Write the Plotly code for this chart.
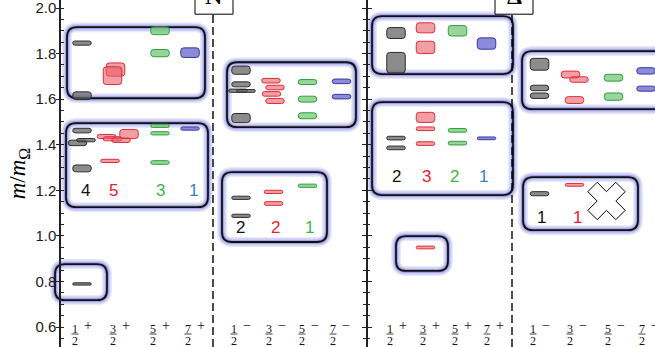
import plotly.graph_objects as go

# ---------------- data ----------------
SPIN_NUM = ["1", "3", "5", "7"]          # J = n/2
SPIN_DEN = "2"
PARITY_SIGNS = ["+", "−"]
Y_TICKS = [0.6, 0.8, 1.0, 1.2, 1.4, 1.6, 1.8, 2.0]
Y_TICK_LABELS = ["0.6", "0.8", "1.0", "1.2", "1.4", "1.6", "1.8", "2.0"]

# Nucleon, positive parity: J column (0..3 = 1/2..7/2), mass m/mΩ, uncertainty
N_POS_COL = [0, 0, 1, 1, 2, 2, 3, 0, 0, 0, 0, 1, 1, 1, 1, 1, 2, 2, 2, 3, 0]
N_POS_MASS = [1.846, 1.615, 1.730, 1.703, 1.900, 1.802, 1.804,
              1.462, 1.408, 1.420, 1.296, 1.436, 1.426, 1.420, 1.447, 1.329,
              1.483, 1.450, 1.322, 1.471, 0.789]
N_POS_ERR = [0.009, 0.017, 0.029, 0.039, 0.017, 0.016, 0.021,
             0.010, 0.012, 0.007, 0.015, 0.009, 0.009, 0.010, 0.020, 0.007,
             0.007, 0.007, 0.008, 0.007, 0.005]

# Nucleon, negative parity
N_NEG_COL = [0, 0, 0, 0, 0, 1, 1, 1, 1, 2, 2, 2, 3, 3, 0, 0, 1, 1, 2]
N_NEG_MASS = [1.727, 1.665, 1.637, 1.636, 1.517, 1.681, 1.651, 1.623, 1.592,
              1.675, 1.600, 1.527, 1.678, 1.611, 1.167, 1.088, 1.193, 1.142, 1.220]
N_NEG_ERR = [0.018, 0.011, 0.007, 0.006, 0.020, 0.010, 0.010, 0.010, 0.011,
             0.011, 0.013, 0.013, 0.010, 0.010, 0.007, 0.007, 0.007, 0.008, 0.007]

# Delta, positive parity
D_POS_COL = [0, 0, 1, 1, 2, 3, 0, 0, 1, 1, 1, 2, 2, 3, 1]
D_POS_MASS = [1.890, 1.760, 1.913, 1.827, 1.900, 1.844,
              1.429, 1.386, 1.520, 1.470, 1.405, 1.463, 1.407, 1.428, 0.949]
D_POS_ERR = [0.024, 0.045, 0.022, 0.027, 0.023, 0.025,
             0.008, 0.008, 0.022, 0.008, 0.008, 0.008, 0.008, 0.006, 0.006]

# Delta, negative parity
D_NEG_COL = [0, 0, 0, 1, 1, 1, 2, 2, 3, 3, 0, 1]
D_NEG_MASS = [1.753, 1.649, 1.615, 1.708, 1.686, 1.596, 1.694, 1.611, 1.724, 1.646,
              1.185, 1.224]
D_NEG_ERR = [0.026, 0.012, 0.012, 0.015, 0.012, 0.015, 0.015, 0.016, 0.014, 0.011,
             0.009, 0.006]

# counts of low-lying states per J column
N_POS_COUNTS = [4, 5, 3, 1]
N_NEG_COUNTS = [2, 2, 1]
D_POS_COUNTS = [2, 3, 2, 1]
D_NEG_COUNTS = [1, 1]

# missing state (Δ 5/2−) marked with a cross
MISSING_COL = 2
MISSING_MASS = 1.153

# ---------------- layout / styling ----------------
Y_RANGE = [0.6 - 20 / 228, 2.0 + 8 / 228]
PX_PER_Y = 228.0
BAR_W = 18.5
BAR_FILL = ["rgba(95,95,95,0.72)", "rgba(232,95,105,0.6)",
            "rgba(110,195,110,0.7)", "rgba(110,110,205,0.8)"]
BAR_LINE = ["rgb(45,45,45)", "rgb(220,45,55)", "rgb(40,160,60)", "rgb(55,55,165)"]
COUNT_COLOR = ["#111111", "#e8202a", "#3cb44b", "#2f7fd0"]

panels = [
    dict(col=N_POS_COL, mass=N_POS_MASS, err=N_POS_ERR,
         centers=[82, 112, 160, 190],
         dx=[0, 0, 3.5, 0.5, 0, 0, 0, 0, -4.5, 4, 0, -5.5, 0.5, 9, 17, -2, 0, 0, 0, 0, 0],
         labels=[75, 113, 153, 188], sign=0,
         counts=N_POS_COUNTS, count_x=[85, 113, 160, 193], count_y=1.201,
         boxes=[(67, 205, 1.604, 1.916), (66, 208, 1.126, 1.495), (55, 107, 0.718, 0.876)]),
    dict(col=N_NEG_COL, mass=N_NEG_MASS, err=N_NEG_ERR,
         centers=[241, 273, 307.5, 341.5],
         dx=[0, 0, -3, 5, 0, -2, 2, -1.5, 2, 0, 0, 0, 0, 0, 0, 0, 0.5, 0.5, 0],
         labels=[234, 269, 302, 333], sign=1,
         counts=N_NEG_COUNTS, count_x=[240, 275, 309], count_y=1.036,
         boxes=[(227, 356, 1.477, 1.762), (222, 327, 0.973, 1.280)]),
    dict(col=D_POS_COL, mass=D_POS_MASS, err=D_POS_ERR,
         centers=[396, 425.5, 457.5, 486.5],
         dx=[0] * len(D_POS_COL),
         labels=[390, 423, 455, 487], sign=0,
         counts=D_POS_COUNTS, count_x=[396, 426, 454, 483], count_y=1.259,
         boxes=[(372, 513, 1.710, 1.964), (372, 513, 1.179, 1.587), (396, 448, 0.846, 0.999)]),
    dict(col=D_NEG_COL, mass=D_NEG_MASS, err=D_NEG_ERR,
         centers=[539.5, 574.5, 613.5, 646],
         dx=[0, 0, 0, -4, 4.5, 0, 0, 0, 0, 0, 0, 0],
         labels=[533, 570, 608, 642], sign=1,
         counts=D_NEG_COUNTS, count_x=[541, 577], count_y=1.082,
         boxes=[(522, 680, 1.556, 1.811), (523, 638, 1.025, 1.258)]),
]
PANEL_TAGS = [("N", 214, 195, 233), ("Δ", 514, 495, 533)]
DASH_X = [213, 512]
AXIS_X = [60, 366.5]


def rbox(x0, x1, y0, y1, r=10):
    ry = r / PX_PER_Y
    return (f"M{x0 + r},{y0} L{x1 - r},{y0} Q{x1},{y0} {x1},{y0 + ry} "
            f"L{x1},{y1 - ry} Q{x1},{y1} {x1 - r},{y1} L{x0 + r},{y1} "
            f"Q{x0},{y1} {x0},{y1 - ry} L{x0},{y0 + ry} Q{x0},{y0} {x0 + r},{y0} Z")


fig = go.Figure()
shapes = []
annotations = []

# grouping boxes with glow
for p in panels:
    for (x0, x1, y0, y1) in p["boxes"]:
        path = rbox(x0, x1, y0, y1)
        for w, c in [(10, "rgba(150,150,235,0.22)"), (7, "rgba(135,135,225,0.3)"),
                     (4, "rgba(115,115,215,0.45)"), (1.8, "#111111")]:
            shapes.append(dict(type="path", path=path, xref="x", yref="y",
                               line=dict(color=c, width=w), layer="below"))

# dashed separators
for xd in DASH_X:
    shapes.append(dict(type="line", xref="x", yref="y", x0=xd, x1=xd,
                       y0=Y_RANGE[0], y1=Y_RANGE[1], layer="below",
                       line=dict(color="black", width=1.4, dash="8px,4px")))

# bars per column colour
for c in range(4):
    xs, bases, hs = [], [], []
    for p in panels:
        for col, m, e, d in zip(p["col"], p["mass"], p["err"], p["dx"]):
            if col == c:
                xs.append(p["centers"][col] + d)
                bases.append(m - e)
                hs.append(2 * e)
    fig.add_trace(go.Bar(x=xs, y=hs, base=bases, width=BAR_W,
                         marker=dict(color=BAR_FILL[c], cornerradius=3,
                                     line=dict(color=BAR_LINE[c], width=1)),
                         hoverinfo="skip"))

# missing-state cross
fig.add_trace(go.Scatter(x=[panels[3]["centers"][MISSING_COL] - 7], y=[MISSING_MASS],
                         mode="markers",
                         marker=dict(symbol="x", size=33, color="white",
                                     line=dict(color="black", width=1)),
                         hoverinfo="skip"))

# count labels
for p in panels:
    for i, n in enumerate(p["counts"]):
        annotations.append(dict(x=p["count_x"][i], y=p["count_y"], xref="x", yref="y",
                                text=str(n), showarrow=False,
                                font=dict(family="Liberation Sans", size=17,
                                          color=COUNT_COLOR[i])))

# J^P labels (fractions)
for p in panels:
    for i, xl in enumerate(p["labels"]):
        annotations.append(dict(x=xl, y=0.6 - 1.5 / PX_PER_Y, xref="x", yref="y",
                                text=SPIN_NUM[i], showarrow=False,
                                font=dict(family="Liberation Serif", size=12, color="#111")))
        annotations.append(dict(x=xl, y=0.6 - 13.5 / PX_PER_Y, xref="x", yref="y",
                                text=SPIN_DEN, showarrow=False,
                                font=dict(family="Liberation Serif", size=12, color="#111")))
        shapes.append(dict(type="line", xref="x", yref="y", x0=xl - 3.5, x1=xl + 3.5,
                           y0=0.6 - 7 / PX_PER_Y, y1=0.6 - 7 / PX_PER_Y,
                           line=dict(color="#111", width=0.8)))
        annotations.append(dict(x=xl + 12.5, y=0.6 + 2 / PX_PER_Y, xref="x", yref="y",
                                text=PARITY_SIGNS[p["sign"]], showarrow=False,
                                font=dict(family="Liberation Serif", size=14, color="#111")))

# channel tags
for (t, xc, x0, x1) in PANEL_TAGS:
    shapes.append(dict(type="rect", xref="x", yref="y", x0=x0, x1=x1,
                       y0=0.6 + (327 - 14) / PX_PER_Y, y1=2.2,
                       fillcolor="white", line=dict(color="black", width=1), layer="above"))
    annotations.append(dict(x=xc, y=0.6 + (327 - 9.5) / PX_PER_Y, xref="x", yref="y",
                            text=f"<b>{t}</b>", showarrow=False, yanchor="bottom",
                            borderpad=0,
                            font=dict(family="Liberation Serif", size=24, color="black")))

# dummy traces to realise extra axes
for ax in ["y2", "y3", "y4"]:
    fig.add_trace(go.Scatter(x=[None], y=[None], yaxis=ax, hoverinfo="skip"))

common = dict(range=Y_RANGE, showgrid=False, zeroline=False, automargin=False,
              tickvals=Y_TICKS, tickcolor="#222", tickwidth=1.2)
fig.update_layout(
    width=655, height=347, margin=dict(l=0, r=0, t=0, b=0),
    template="none", paper_bgcolor="white", plot_bgcolor="white",
    showlegend=False, barmode="overlay",
    xaxis=dict(range=[0, 655], domain=[0, 1], visible=False, fixedrange=True),
    yaxis=dict(**common, anchor="free", position=AXIS_X[0] / 655, side="left",
               showline=True, linecolor="#222", linewidth=1.5,
               ticks="outside", ticklen=3, ticktext=Y_TICK_LABELS,
               ticklabeloverflow="allow", ticklabelstandoff=-3,
               tickfont=dict(family="Liberation Sans", size=15, color="#1a1a1a"),
               minor=dict(dtick=0.05, tick0=0.6, ticks="inside", ticklen=3,
                          tickcolor="#222", tickwidth=1),
               title=dict(text="<i>m</i>/<i>m</i><sub>Ω</sub>", standoff=2,
                          font=dict(family="Liberation Serif", size=23, color="black"))),
    yaxis2=dict(**common, overlaying="y", anchor="free", position=AXIS_X[0] / 655,
                side="left", showline=False, ticks="inside", ticklen=3,
                showticklabels=False),
    yaxis3=dict(**common, overlaying="y", anchor="free", position=AXIS_X[1] / 655,
                side="left", showline=True, linecolor="#222", linewidth=1.5,
                ticks="outside", ticklen=4, showticklabels=False,
                minor=dict(dtick=0.05, tick0=0.6, ticks="outside", ticklen=2.5,
                           tickcolor="#222", tickwidth=1)),
    yaxis4=dict(**common, overlaying="y", anchor="free", position=AXIS_X[1] / 655,
                side="left", showline=False, ticks="inside", ticklen=4,
                showticklabels=False,
                minor=dict(dtick=0.05, tick0=0.6, ticks="inside", ticklen=2.5,
                           tickcolor="#222", tickwidth=1)),
    shapes=shapes, annotations=annotations,
)

fig.write_html("out.html", config={"displayModeBar": False},
               post_script="document.body.style.margin='0';document.body.style.overflow='hidden';")
